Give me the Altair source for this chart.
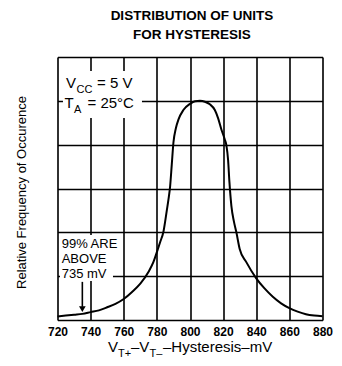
import altair as alt
import pandas as pd

# ---- data ----
hyst_mv = [720, 730, 735, 740, 745, 750, 755, 760, 765, 770, 775, 778, 780, 782, 784,
           786, 787, 788, 789, 790, 791.5, 793, 796, 800, 803, 806, 809, 812, 815, 817,
           819, 821, 822, 823, 823.8, 825, 826.5, 828, 830, 834, 840, 845, 850, 855,
           860, 865, 870, 875, 880]
rel_freq = [0.08, 0.12, 0.14, 0.18, 0.22, 0.29, 0.37, 0.48, 0.64, 0.83, 1.10, 1.33, 1.55, 1.78, 2.02,
            2.50, 2.75, 3.05, 3.55, 4.05, 4.38, 4.57, 4.79, 4.93, 4.99, 5.00, 4.98, 4.92, 4.79, 4.60,
            4.34, 4.12, 3.98, 3.65, 3.15, 2.60, 2.25, 2.00, 1.62, 1.32, 0.95, 0.72, 0.53, 0.38,
            0.27, 0.19, 0.13, 0.10, 0.085]
x_ticks = [720, 740, 760, 780, 800, 820, 840, 860, 880]
y_grid = [0, 1, 2, 3, 4, 5, 6]
arrow_mv = 735

FONT = "Liberation Sans"
W, H = 265, 263

df = pd.DataFrame({"mv": hyst_mv, "f": rel_freq})
one = pd.DataFrame({"k": [0]})

xs = alt.Scale(domain=[720, 880], nice=False, zero=False)
ys = alt.Scale(domain=[0, 6], nice=False, zero=True)

xaxis = alt.Axis(
    values=x_ticks, title=None, grid=True, gridColor="black", gridWidth=1.6,
    gridOpacity=1, domain=False, ticks=False, tickSize=0, labelPadding=6,
    labelFont=FONT, labelFontSize=12, labelFontWeight="bold", labelColor="black",
    labelFlush=False, labelOverlap=False)
yaxis = alt.Axis(
    values=y_grid, title=None, grid=True, gridColor="black", gridWidth=1.6,
    gridOpacity=1, domain=False, ticks=False, labels=False)

curve = alt.Chart(df).mark_line(color="black", strokeWidth=2, interpolate="monotone").encode(
    x=alt.X("mv:Q", scale=xs, axis=xaxis),
    y=alt.Y("f:Q", scale=ys, axis=yaxis),
)


def box(x1, x2, y1, y2):
    return alt.Chart(one).mark_rect(color="white").encode(
        x=alt.XDatum(x1, scale=xs, axis=xaxis), x2=alt.X2Datum(x2),
        y=alt.YDatum(y1, scale=ys, axis=yaxis), y2=alt.Y2Datum(y2))


def txt(s, x, y, size=13, weight="normal", align="left", baseline="alphabetic", angle=0):
    return alt.Chart(one).mark_text(
        font=FONT, fontSize=size, fontWeight=weight, align=align, baseline=baseline,
        angle=angle, color="black").encode(
        x=alt.value(x), y=alt.value(y), text=alt.value(s))


boxes = [box(723.3, 771, 4.61, 5.68), box(721.5, 753.5, 0.89, 1.94)]

arrow_line = alt.Chart(one).mark_rule(color="black", strokeWidth=1.6).encode(
    x=alt.XDatum(arrow_mv, scale=xs, axis=xaxis),
    y=alt.YDatum(0.87, scale=ys, axis=yaxis), y2=alt.Y2Datum(0.3))
arrow_head = alt.Chart(one).mark_point(
    shape="triangle-down", filled=True, color="black", opacity=1, size=45).encode(
    x=alt.XDatum(arrow_mv, scale=xs, axis=xaxis),
    y=alt.YDatum(0.25, scale=ys, axis=yaxis))

texts = [
    txt("DISTRIBUTION OF UNITS", 134.5, -37.5, size=13.5, weight="bold", align="center"),
    txt("FOR HYSTERESIS", 134.5, -18.5, size=13.5, weight="bold", align="center"),
    txt("Relative Frequency of Occurence", -35.5, 135.5, size=13, align="center",
        baseline="middle", angle=270),
    # V_CC = 5 V
    txt("V", 8.5, 31, size=15),
    txt("CC", 19, 36, size=11),
    txt("= 5 V", 39.5, 31, size=15),
    # T_A = 25°C
    txt("T", 7, 51, size=15),
    txt("A", 16.5, 56, size=11),
    txt("= 25°C", 30, 51, size=15),
    # 99% note
    txt("99% ARE", 4.2, 191.3, size=13),
    txt("ABOVE", 4.2, 206.3, size=13),
    txt("735 mV", 4.2, 221.3, size=13),
    # x title
    txt("V", 50.5, 295, size=15),
    txt("T+", 60.5, 300, size=11),
    txt("–V", 73.5, 295, size=15),
    txt("T–", 92, 300, size=11),
    txt("–Hysteresis–mV", 105.5, 295, size=15),
]

chart = alt.layer(curve, *boxes, arrow_line, arrow_head, *texts).properties(
    width=W, height=H,
    autosize=alt.AutoSizeParams(type="none"),
    padding={"left": 49.5, "top": 49, "right": 11, "bottom": 42},
).configure_view(stroke="black", strokeWidth=1.8).configure(background="white")

chart.save("out.html", embed_options={"renderer": "svg", "actions": False})
